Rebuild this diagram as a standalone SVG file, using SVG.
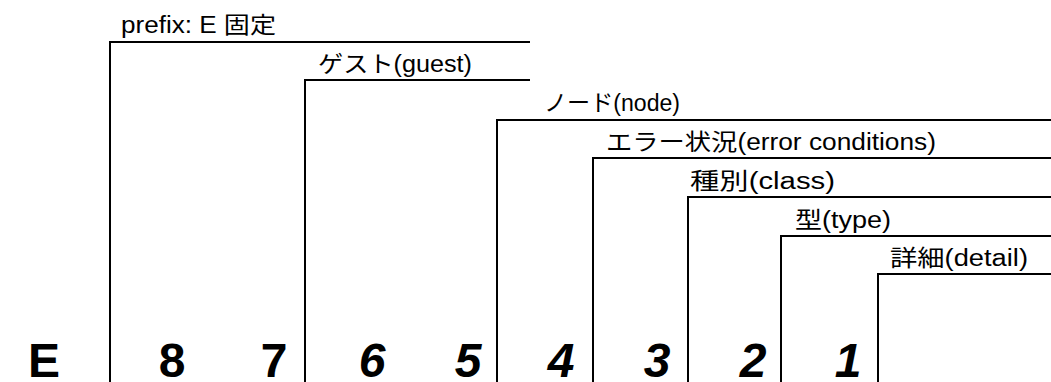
<svg xmlns="http://www.w3.org/2000/svg" width="1051" height="382" viewBox="0 0 1051 382">
<style>
.ln{fill:none;stroke:#000;stroke-width:2}
.lb{font-family:"Liberation Sans","Noto Sans CJK JP",sans-serif;font-size:23px;fill:#000}
.dg{font-family:"Liberation Sans",Arial,sans-serif;font-size:48px;font-weight:bold;fill:#000;text-anchor:middle}
.it{font-style:italic}
</style>
<rect width="1051" height="382" fill="#fff"/>
<g id="connectors">
<path class="ln" d="M110,382 V42 H530"/>
<path class="ln" d="M305,382 V80 H530"/>
<path class="ln" d="M497,382 V120 H1051"/>
<path class="ln" d="M593,382 V158 H1051"/>
<path class="ln" d="M688,382 V197 H1051"/>
<path class="ln" d="M781,382 V236 H1051"/>
<path class="ln" d="M878,382 V274 H1051"/>
</g>
<g id="prefix"><text class="lb" x="121" y="33" textLength="155" lengthAdjust="spacingAndGlyphs">prefix: E 固定</text></g>
<g id="guest"><text class="lb" x="318" y="72" textLength="154" lengthAdjust="spacingAndGlyphs">ゲスト(guest)</text></g>
<g id="node"><text class="lb" x="544" y="111" textLength="136" lengthAdjust="spacingAndGlyphs">ノード(node)</text></g>
<g id="error"><text class="lb" x="606" y="150" textLength="330" lengthAdjust="spacingAndGlyphs">エラー状況(error conditions)</text></g>
<g id="class"><text class="lb" x="690" y="189" textLength="145" lengthAdjust="spacingAndGlyphs">種別(class)</text></g>
<g id="type"><text class="lb" x="795" y="228" textLength="96" lengthAdjust="spacingAndGlyphs">型(type)</text></g>
<g id="detail"><text class="lb" x="890" y="266" textLength="138" lengthAdjust="spacingAndGlyphs">詳細(detail)</text></g>
<g id="digits">
<text class="dg" x="44" y="377">E</text>
<text class="dg" x="172" y="377">8</text>
<text class="dg" x="274" y="377">7</text>
<text class="dg it" x="372" y="377">6</text>
<text class="dg it" x="468" y="377">5</text>
<text class="dg it" x="561" y="377">4</text>
<text class="dg it" x="657" y="377">3</text>
<text class="dg it" x="753" y="377">2</text>
<text class="dg it" x="848" y="377">1</text>
</g>
</svg>
